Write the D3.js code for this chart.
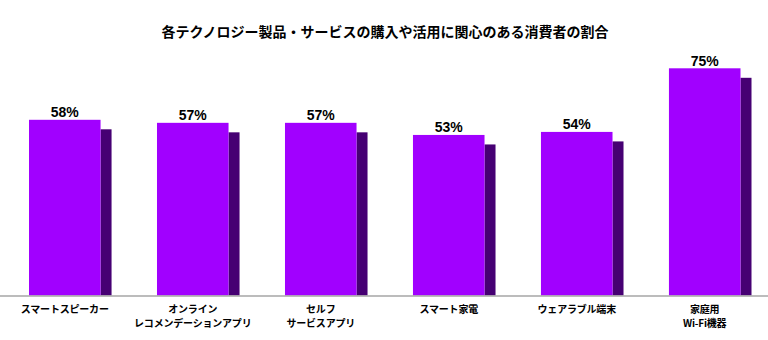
<!DOCTYPE html>
<html lang="ja">
<head>
<meta charset="utf-8">
<script src="https://cdn.jsdelivr.net/npm/d3@7"></script>
<style>
  html, body { margin: 0; padding: 0; background: #fff; }
  svg { display: block; }
</style>
</head>
<body>
<svg id="chart" width="768" height="340"></svg>
<script>
// Chart content
const title = "各テクノロジー製品・サービスの購入や活用に関心のある消費者の割合";
const categories = [
  "スマートスピーカー",
  "オンライン\nレコメンデーションアプリ",
  "セルフ\nサービスアプリ",
  "スマート家電",
  "ウェアラブル端末",
  "家庭用\nWi-Fi機器"
];
const values = [58, 57, 57, 53, 54, 75];

const W = 768, H = 340;
const baseY = 295.5;
const sideW = 11;      // width of the dark side face
const sideDrop = 9.5;  // how far the side face starts below the bar top

const svg = d3.select("#chart");

// Band covers the front face plus the dark side face
const x = d3.scaleBand()
  .domain(categories)
  .range([29, 29 + 128 * 5 + 82.5])
  .paddingInner(0.355)
  .paddingOuter(0);

const frontW = x.bandwidth() - sideW;

const y = d3.scaleLinear()
  .domain([0, 75])
  .range([baseY, 68.3]);

// Title
svg.append("text")
  .attr("x", 385)
  .attr("y", 37)
  .attr("text-anchor", "middle")
  .attr("font-family", "'Noto Sans CJK JP', sans-serif")
  .attr("font-weight", 700)
  .attr("font-size", 14)
  .attr("fill", "#000")
  .text(title);

const bars = svg.append("g").selectAll("g")
  .data(categories.map((c, i) => ({ c, v: values[i] })))
  .join("g");

// Dark side face
bars.append("rect")
  .attr("x", d => x(d.c) + frontW)
  .attr("y", d => y(d.v) + sideDrop)
  .attr("width", sideW)
  .attr("height", d => baseY - y(d.v) - sideDrop)
  .attr("fill", "#460073");

// Front face
bars.append("rect")
  .attr("x", d => x(d.c))
  .attr("y", d => y(d.v))
  .attr("width", frontW)
  .attr("height", d => baseY - y(d.v))
  .attr("fill", "#a100ff");

// Value labels
bars.append("text")
  .attr("x", d => x(d.c) + frontW / 2)
  .attr("y", d => y(d.v) - 2.5)
  .attr("text-anchor", "middle")
  .attr("font-family", "'Liberation Sans', Arial, sans-serif")
  .attr("font-weight", 700)
  .attr("font-size", 14)
  .attr("fill", "#000")
  .text(d => d.v + "%");

// Baseline across the full width
svg.append("line")
  .attr("x1", 0).attr("x2", W)
  .attr("y1", baseY + 0.5).attr("y2", baseY + 0.5)
  .attr("stroke", "#a6a6a6")
  .attr("stroke-width", 1.5);

// Category axis (labels centred under the front faces)
const xLabel = d3.scaleBand()
  .domain(categories)
  .range([29, 29 + frontW + 128 * 5 + 82.5 - x.bandwidth()])
  .paddingInner(1 - frontW / 128)
  .paddingOuter(0);

const axis = svg.append("g")
  .attr("transform", `translate(0,${baseY})`)
  .call(d3.axisBottom(xLabel).tickSize(0).tickFormat(""));
axis.select(".domain").remove();

axis.selectAll(".tick").each(function(d) {
  const lines = d.split("\n");
  const t = d3.select(this).append("text")
    .attr("text-anchor", "middle")
    .attr("font-family", "'Noto Sans CJK JP', sans-serif")
    .attr("font-weight", 700)
    .attr("font-size", 10)
    .attr("letter-spacing", -0.2)
    .attr("fill", "#000");
  lines.forEach((ln, i) => {
    t.append("tspan")
      .attr("x", 0)
      .attr("y", 17.5 + i * 13.5)
      .text(ln);
  });
});
</script>
</body>
</html>
